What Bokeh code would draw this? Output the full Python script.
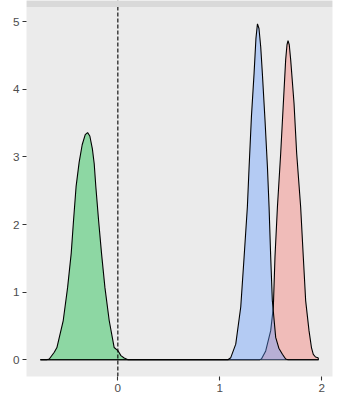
from bokeh.plotting import figure
from bokeh.models import Range1d, BoxAnnotation, Span, FixedTicker
from bokeh.embed import file_html
from bokeh.resources import INLINE

# density curves (x, density)
red_x = [-0.76, 1.39, 1.409, 1.451, 1.50, 1.526, 1.542, 1.566, 1.598, 1.624, 1.647, 1.660, 1.670,
         1.682, 1.696, 1.729, 1.755, 1.794, 1.82, 1.843, 1.876, 1.90, 1.918, 1.94, 1.964, 1.97]
red_y = [0, 0, 0.01, 0.13, 0.43, 0.78, 1.52, 2.26, 3.05, 3.79, 4.44, 4.66, 4.72,
         4.66, 4.44, 3.79, 3.05, 2.26, 1.52, 0.875, 0.43, 0.18, 0.08, 0.04, 0.03, 0]

green_x = [-0.76, -0.70, -0.673, -0.624, -0.598, -0.536, -0.493, -0.458, -0.435, -0.41, -0.38,
           -0.35, -0.32, -0.297, -0.275, -0.25, -0.232, -0.216, -0.189, -0.160, -0.127, -0.085,
           -0.036, 0.003, 0.03, 0.062, 0.10, 1.97]
green_y = [0, 0, 0.01, 0.11, 0.18, 0.58, 1.07, 1.57, 2.06, 2.56, 2.92,
           3.18, 3.33, 3.36, 3.31, 3.12, 2.90, 2.56, 2.06, 1.57, 1.07, 0.58,
           0.18, 0.13, 0.06, 0.025, 0, 0]

blue_x = [-0.76, 1.08, 1.108, 1.157, 1.206, 1.239, 1.271, 1.288, 1.311, 1.337, 1.355, 1.370,
          1.385, 1.402, 1.418, 1.444, 1.468, 1.484, 1.50, 1.516, 1.549, 1.58, 1.615, 1.647, 1.67, 1.97]
blue_y = [0, 0, 0.03, 0.23, 0.78, 1.52, 2.26, 2.85, 3.60, 4.24, 4.75, 4.97,
          4.90, 4.63, 4.24, 3.55, 2.85, 2.26, 1.52, 0.875, 0.33, 0.17, 0.08, 0.01, 0, 0]

x_ticks = [0, 1, 2]
y_ticks = [0, 1, 2, 3, 4, 5]
vline_x = 0

series = [
    (red_x, red_y, "#F8766D"),
    (green_x, green_y, "#00BA38"),
    (blue_x, blue_y, "#619CFF"),
]

W, H = 340, 400
LEFT, RIGHT, BOTTOM = 26, 8, 24
STRIP_H = 6.5
PANEL_H = H - BOTTOM - STRIP_H

all_x = red_x + green_x + blue_x
all_y = red_y + green_y + blue_y
xmin, xmax = min(all_x), max(all_x)
xs = xmax - xmin
ymin, ymax = 0.0, max(all_y)
ys = ymax - ymin
y_lo = ymin - 0.05 * ys
y_hi = ymax + 0.05 * ys
y_top = y_hi + (y_hi - y_lo) * STRIP_H / PANEL_H

p = figure(width=W, height=H, output_backend="svg", toolbar_location=None,
           x_range=Range1d(xmin - 0.05 * xs, xmax + 0.05 * xs),
           y_range=Range1d(y_lo, y_top),
           min_border_left=LEFT, min_border_right=RIGHT,
           min_border_bottom=BOTTOM, min_border_top=0)

p.background_fill_color = "#EBEBEB"
p.border_fill_color = "white"
p.outline_line_color = None
p.xgrid.grid_line_color = None
p.ygrid.grid_line_color = None

for xv, yv, col in series:
    p.varea(x=xv, y1=[0] * len(xv), y2=yv, fill_color=col, fill_alpha=0.4)
    p.line(x=xv, y=yv, line_color="black", line_width=1.1)

p.add_layout(Span(location=vline_x, dimension="height", line_color="black",
                  line_width=1.1, line_dash="4 2"))
p.add_layout(BoxAnnotation(bottom=y_hi, fill_color="#D9D9D9", fill_alpha=1.0,
                           line_color=None))

for ax in (p.xaxis[0], p.yaxis[0]):
    ax.axis_line_color = None
    ax.major_tick_line_color = "#333333"
    ax.major_tick_line_width = 1.1
    ax.major_tick_out = 4
    ax.major_tick_in = 0
    ax.minor_tick_line_color = None
    ax.major_label_text_color = "#4D4D4D"
    ax.major_label_text_font = "Liberation Sans"
    ax.major_label_text_font_size = "11.7px"
    ax.major_label_standoff = 3

p.xaxis[0].ticker = FixedTicker(ticks=x_ticks)
p.yaxis[0].ticker = FixedTicker(ticks=y_ticks)

open("out.html", "w").write(file_html(p, INLINE))
